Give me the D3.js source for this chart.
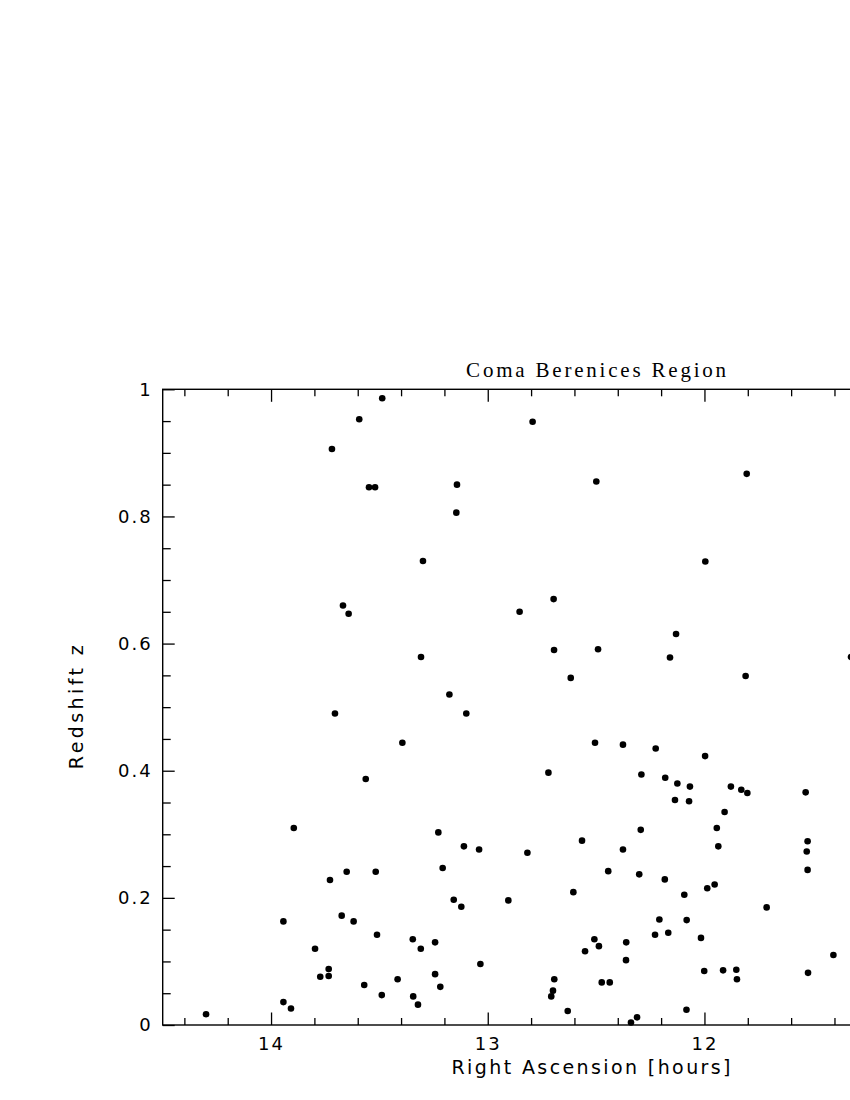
<!DOCTYPE html>
<html>
<head>
<meta charset="utf-8">
<script src="https://cdn.jsdelivr.net/npm/d3@7"></script>
<style>
  body { margin: 0; background: #fff; }
  svg { display: block; }
  .tick text { font-family: "DejaVu Sans", sans-serif; font-size: 18px; fill: #000; letter-spacing: 2px; }
</style>
</head>
<body>
<div id="chart"></div>
<script>
// right ascension [hours] of each galaxy
var ra = [
  13.487, 13.593, 13.719, 13.548, 13.520, 13.668, 13.642,
  13.705, 13.394, 13.563, 13.895, 13.651, 13.517, 13.728, 13.674, 13.943, 13.619,
  13.511, 13.797, 13.734, 13.773, 13.734, 13.570, 13.416, 13.489, 13.943, 13.908, 14.300,
  12.793, 13.142, 12.499, 13.145, 13.299, 12.696, 12.853, 13.308, 12.694, 12.491, 12.617, 13.177,
  13.099, 12.505, 12.376, 12.720, 13.228, 13.110, 13.040, 12.817, 12.565, 12.376, 13.208,
  12.444, 12.605, 13.157, 13.122, 12.905, 13.346, 13.309, 13.243, 12.508, 12.487, 12.551,
  13.034, 13.243, 13.219, 13.344, 13.322, 12.693, 12.699, 12.707, 12.474, 12.437, 12.631,
  11.805, 11.996, 12.131, 12.159, 11.810, 11.324,
  12.225, 11.997, 12.291, 12.181, 12.125, 12.067, 11.878, 11.830, 11.802, 11.533, 12.136,
  12.071, 11.907, 12.294, 11.943, 11.524, 11.936, 11.528, 12.301, 12.183, 11.524, 11.987,
  11.953, 12.093, 11.713, 12.208, 12.082, 12.228, 12.167, 12.016, 12.361, 12.362, 11.405,
  12.001, 11.914, 11.853, 11.850, 11.522, 12.083, 12.311, 12.339
];
// redshift z, same order
var redshift = [
  0.986, 0.953, 0.906, 0.846, 0.846, 0.660, 0.647,
  0.490, 0.444, 0.387, 0.310, 0.241, 0.241, 0.228, 0.172, 0.163, 0.163,
  0.142, 0.120, 0.088, 0.076, 0.077, 0.063, 0.072, 0.047, 0.036, 0.026, 0.017,
  0.949, 0.850, 0.855, 0.806, 0.730, 0.670, 0.650, 0.579, 0.590, 0.591, 0.546, 0.520,
  0.490, 0.444, 0.441, 0.397, 0.303, 0.281, 0.276, 0.271, 0.290, 0.276, 0.247,
  0.242, 0.209, 0.197, 0.186, 0.196, 0.135, 0.120, 0.130, 0.135, 0.124, 0.116,
  0.096, 0.080, 0.060, 0.045, 0.032, 0.072, 0.054, 0.045, 0.067, 0.067, 0.022,
  0.867, 0.729, 0.615, 0.578, 0.549, 0.579,
  0.435, 0.423, 0.394, 0.389, 0.380, 0.375, 0.375, 0.370, 0.365, 0.366, 0.354,
  0.352, 0.335, 0.307, 0.310, 0.289, 0.281, 0.273, 0.237, 0.229, 0.244, 0.215,
  0.221, 0.205, 0.185, 0.166, 0.165, 0.142, 0.145, 0.137, 0.130, 0.102, 0.110,
  0.085, 0.086, 0.087, 0.072, 0.082, 0.024, 0.012, 0.004
];

var raDomain = [14.5, 10.5];
var zDomain = [0, 1];
var raMajor = [14, 13, 12];
var raMinor = [14.4, 14.2, 13.8, 13.6, 13.4, 13.2, 12.8, 12.6, 12.4, 12.2, 11.8, 11.6, 11.4, 11.2, 11, 10.8, 10.6];
var zMajor = [0, 0.2, 0.4, 0.6, 0.8, 1];
var zMinor = [0.05, 0.1, 0.15, 0.25, 0.3, 0.35, 0.45, 0.5, 0.55, 0.65, 0.7, 0.75, 0.85, 0.9, 0.95];

var titleText = "Coma Berenices Region";
var xLabel = "Right Ascension [hours]";
var yLabel = "Redshift z";

var width = 850, height = 1100;
var pLeft = 162.7, pRight = 1029.5, pTop = 389.3, pBottom = 1025;

var svg = d3.select("#chart").append("svg")
  .attr("width", width)
  .attr("height", height);

var x = d3.scaleLinear().domain(raDomain).range([pLeft, pRight]);
var y = d3.scaleLinear().domain(zDomain).range([pBottom, pTop]);

function styleAxis(g) {
  g.select(".domain").remove();
  g.selectAll(".tick line").attr("stroke", "#000").attr("stroke-width", 1.3);
}

// bottom axis
svg.append("g").attr("transform", "translate(0," + pBottom + ")")
  .call(d3.axisBottom(x).tickValues(raMinor).tickSize(-7).tickFormat(""))
  .call(styleAxis);
svg.append("g").attr("transform", "translate(0," + pBottom + ")")
  .call(d3.axisBottom(x).tickValues(raMajor).tickSize(-12.5).tickPadding(12).tickFormat(d3.format("d")))
  .call(styleAxis);

// top axis, no labels
svg.append("g").attr("transform", "translate(0," + pTop + ")")
  .call(d3.axisTop(x).tickValues(raMinor).tickSize(-7).tickFormat(""))
  .call(styleAxis);
svg.append("g").attr("transform", "translate(0," + pTop + ")")
  .call(d3.axisTop(x).tickValues(raMajor).tickSize(-12.5).tickFormat(""))
  .call(styleAxis);

// left axis
svg.append("g").attr("transform", "translate(" + pLeft + ",0)")
  .call(d3.axisLeft(y).tickValues(zMinor).tickSize(-8).tickFormat(""))
  .call(styleAxis);
svg.append("g").attr("transform", "translate(" + pLeft + ",0)")
  .call(d3.axisLeft(y).tickValues(zMajor).tickSize(-12).tickPadding(10)
    .tickFormat(function(d) { return d === 0 || d === 1 ? String(d) : d3.format(".1f")(d); }))
  .call(styleAxis);

// frame
svg.append("rect")
  .attr("x", pLeft).attr("y", pTop)
  .attr("width", pRight - pLeft).attr("height", pBottom - pTop)
  .attr("fill", "none").attr("stroke", "#000").attr("stroke-width", 1.4);

// points
var pts = d3.zip(ra, redshift);
svg.append("g").selectAll("circle")
  .data(pts)
  .enter().append("circle")
  .attr("cx", function(d) { return x(d[0]); })
  .attr("cy", function(d) { return y(d[1]); })
  .attr("r", 3.3)
  .attr("fill", "#000");

// title
svg.append("text")
  .attr("x", (pLeft + pRight) / 2).attr("y", 377)
  .attr("text-anchor", "middle")
  .attr("font-family", "'Liberation Serif', 'DejaVu Serif', serif")
  .attr("font-size", 21)
  .attr("textLength", 260).attr("lengthAdjust", "spacing")
  .text(titleText);

// axis labels
svg.append("text")
  .attr("x", 591).attr("y", 1074)
  .attr("text-anchor", "middle")
  .attr("font-family", "'DejaVu Sans', sans-serif")
  .attr("font-size", 19)
  .attr("textLength", 279).attr("lengthAdjust", "spacing")
  .text(xLabel);

svg.append("text")
  .attr("transform", "translate(83," + ((pTop + pBottom) / 2) + ") rotate(-90)")
  .attr("text-anchor", "middle")
  .attr("font-family", "'DejaVu Sans', sans-serif")
  .attr("font-size", 19)
  .attr("textLength", 124).attr("lengthAdjust", "spacing")
  .text(yLabel);
</script>
</body>
</html>
